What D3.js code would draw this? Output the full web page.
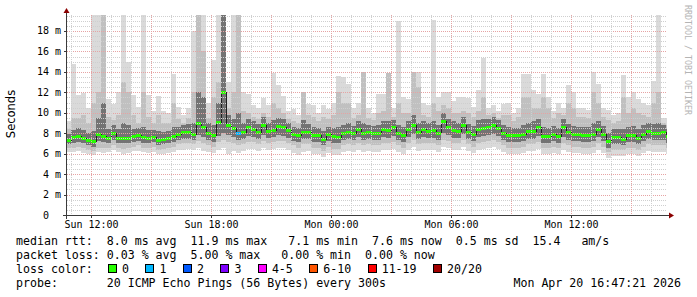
<!DOCTYPE html>
<html>
<head>
<meta charset="utf-8">
<script src="https://cdn.jsdelivr.net/npm/d3@7"></script>
<style>
body { margin: 0; background: #fff; }
text { font-family: "DejaVu Sans Mono", monospace; }
</style>
</head>
<body>
<div id="chart"></div>
<script>
// ******* data: 15 minute steps from Sun 10:45, values in ms ******* //
var firstStep = new Date(2026, 3, 19, 10, 45);
var stepMinutes = 15;

// top of the lightest smoke (slowest ping)
var hi = [9.2,14.8,11.7,11.9,10.5,21,21,21,11.3,10.9,
  12.0,21,15.0,11.7,10.6,21,11.7,10.2,11.6,10.2,
  10.0,13.8,10.6,9.8,10.5,18.0,21,21,11.0,15.2,
  21,21,13.0,21,21,12.0,11.8,10.8,10.5,11.4,
  10.8,13.9,12.7,11.6,10.2,10.4,9.8,12.0,10.9,10.8,
  10.0,10.8,10.4,11.0,13.6,13.5,12.8,10.5,11.0,14.0,
  10.5,10.0,11.8,11.8,13.9,10.5,19.0,11.5,11.3,14.0,
  14.0,11.0,10.8,19.1,11.5,12.0,12.0,11.2,11.5,11.5,
  11.4,10.6,12.2,15.4,10.5,10.8,10.2,10.9,11.0,10.0,
  10.5,13.8,13.8,12.2,11.8,13.8,11.5,10.2,11.0,10.5,
  12.7,12.0,10.5,10.5,10.3,14.0,12.8,10.5,10.3,9.8,
  10.0,13.7,11.5,12.0,11.3,11.0,10.8,13.1,21,9.5,
  9.5];
// top of the middle smoke
var up = [8.4,9.5,9.5,9.8,9.0,11,12,21,9.6,9.3,
  9.8,13,12,9.8,9.0,12,9.6,9.0,9.8,9.0,
  9.0,11.0,9.4,9.0,9.5,12,21,16,9.5,11.5,
  13,21,10.5,12,21,10.2,10.0,9.6,9.4,10.0,
  9.6,11.0,10.5,10.0,9.4,9.2,9.0,12.0,9.8,9.6,
  9.2,9.6,9.4,9.8,12.0,11.0,11.0,9.5,9.8,14.0,
  9.5,9.3,10.0,10.2,13.9,9.6,11.0,10.0,10.0,14.0,
  12.5,9.8,9.6,11.0,10.2,10.8,10.5,10.0,10.0,10.2,
  10.0,9.6,10.2,11.5,9.8,10.0,9.5,9.8,9.8,9.2,
  9.6,11.5,11.5,10.5,10.5,11.5,10.5,9.5,10.0,9.8,
  11.0,10.5,9.6,9.6,9.5,12.0,11.0,9.6,9.3,9.0,
  9.2,11.5,10.0,10.5,10.0,9.8,9.6,11.0,12,9.0,
  8.8];
// top of the dark smoke
var uq = [7.9,8.3,8.5,8.3,8.0,8.2,9.5,11.0,8.4,8.8,
  8.4,9.0,8.8,8.4,8.5,8.6,8.3,8.3,8.2,8.1,
  8.2,8.6,8.6,8.8,8.9,9.0,12.0,11.5,9.0,8.8,
  11.0,21,9.8,9.4,10.0,9.0,9.4,9.2,8.9,9.6,
  9.0,9.3,9.5,9.4,9.0,8.6,8.5,9.3,8.9,8.6,
  8.5,8.2,8.6,8.5,8.6,8.8,9.0,8.7,9.2,9.0,
  8.8,8.7,8.8,9.2,9.2,9.3,8.8,8.6,9.2,9.8,
  9.0,9.2,9.0,9.2,8.8,10.0,9.4,9.2,9.0,9.6,
  8.9,8.7,9.3,9.4,9.4,9.6,9.3,8.8,8.6,8.5,
  8.5,8.8,9.0,9.2,9.4,8.6,8.5,8.7,8.5,9.4,
  8.9,8.7,8.6,8.6,8.6,9.0,9.2,8.7,8.0,8.4,
  8.4,8.4,8.6,8.7,8.4,8.8,9.0,8.9,9.0,8.8,
  8.4];
// median rtt
var med = [7.3,7.6,7.7,7.5,7.3,7.2,7.9,7.7,7.5,8.0,
  7.5,7.5,7.5,7.7,7.8,7.6,7.5,7.6,7.3,7.4,
  7.5,7.7,7.9,8.1,8.1,7.9,9.0,8.6,8.0,7.8,
  9.1,12.0,8.8,8.5,8.0,8.1,8.6,8.4,8.1,8.8,
  8.2,8.3,8.7,8.6,8.3,7.9,7.8,8.1,8.1,7.8,
  7.8,7.4,7.9,7.7,7.6,8.0,8.1,8.0,8.4,8.0,
  8.1,8.0,8.0,8.4,8.3,8.6,8.0,7.8,8.4,8.8,
  8.1,8.4,8.2,8.3,8.0,9.2,8.6,8.3,8.2,8.8,
  8.1,7.9,8.4,8.5,8.6,8.8,8.5,8.0,7.8,7.8,
  7.8,7.9,8.2,8.2,8.6,7.7,7.7,7.9,7.7,8.6,
  8.1,7.9,7.9,7.8,7.8,7.9,8.4,7.9,7.2,7.6,
  7.6,7.4,7.8,7.8,7.5,7.9,8.2,8.0,8.0,8.1,
  7.7];
// bottom of the dark smoke
var lq = [6.9,7.0,7.1,7.0,6.8,6.7,7.2,7.1,7.0,7.3,
  7.0,7.0,7.0,7.1,7.2,7.0,7.0,7.1,6.8,6.9,
  7.0,7.1,7.3,7.4,7.4,7.3,7.8,7.6,7.3,7.1,
  7.7,8.0,7.8,7.6,7.3,7.4,7.7,7.6,7.4,7.8,
  7.5,7.6,7.8,7.7,7.5,7.2,7.1,7.4,7.4,7.1,
  7.1,6.8,7.2,7.0,7.0,7.3,7.4,7.3,7.6,7.3,
  7.4,7.3,7.3,7.6,7.5,7.7,7.3,7.1,7.6,7.9,
  7.4,7.6,7.5,7.5,7.3,8.0,7.8,7.5,7.5,7.9,
  7.4,7.2,7.6,7.7,7.8,7.9,7.7,7.3,7.1,7.1,
  7.1,7.2,7.4,7.4,7.7,7.0,7.0,7.2,7.0,7.6,
  7.3,7.2,7.2,7.1,7.1,7.2,7.6,7.2,6.6,6.9,
  6.9,6.8,7.1,7.1,6.9,7.2,7.4,7.3,7.3,7.3,
  7.0];
// bottom of the middle smoke
var dn = [6.6,6.6,6.7,6.6,6.4,6.3,6.6,6.6,6.6,6.8,
  6.6,6.5,6.6,6.7,6.8,6.6,6.6,6.7,6.4,6.5,
  6.6,6.7,6.9,7.0,7.0,6.9,7.2,7.0,6.8,6.7,
  7.1,7.3,7.1,7.0,6.8,6.9,7.1,7.1,6.9,7.2,
  7.0,7.1,7.2,7.2,7.0,6.8,6.6,6.9,6.9,6.6,
  6.6,6.3,6.7,6.5,6.5,6.8,6.9,6.8,7.0,6.8,
  6.9,6.8,6.8,7.0,7.0,7.1,6.8,6.6,7.0,7.3,
  6.9,7.0,7.0,7.0,6.8,7.3,7.2,7.0,7.0,7.3,
  6.9,6.7,7.0,7.1,7.2,7.3,7.1,6.8,6.6,6.6,
  6.6,6.7,6.9,6.9,7.1,6.6,6.6,6.7,6.6,7.0,
  6.8,6.7,6.7,6.6,6.6,6.7,7.0,6.7,6.2,6.4,
  6.4,6.4,6.6,6.6,6.4,6.7,6.9,6.8,6.8,6.8,
  6.6];
// bottom of the lightest smoke (fastest ping)
var lo = [6.2,6.2,6.3,6.1,6.0,5.9,6.2,6.1,6.2,6.4,
  6.2,6.0,6.1,6.3,6.3,6.2,6.1,6.2,6.0,6.0,
  6.1,6.2,6.4,6.4,6.5,6.4,6.6,6.3,6.2,6.1,
  6.4,6.6,6.0,6.3,6.1,6.3,6.5,6.5,6.3,6.6,
  6.4,6.5,6.6,6.6,6.4,6.1,5.9,6.2,6.3,6.0,
  6.0,5.7,6.1,5.9,5.9,6.2,6.3,6.2,6.4,6.2,
  6.3,6.2,6.2,6.4,6.4,6.5,6.2,6.0,6.4,6.7,
  6.3,6.4,6.4,6.4,6.2,6.7,6.6,6.4,6.4,6.7,
  6.3,6.1,6.4,6.5,6.6,6.7,6.5,6.2,6.0,6.0,
  6.0,6.1,6.3,6.3,6.5,6.0,6.0,6.1,6.0,6.4,
  6.2,6.1,6.1,6.0,6.0,6.1,6.4,6.1,5.6,5.8,
  5.8,5.8,6.0,6.0,5.8,6.1,6.3,6.2,6.2,6.2,
  6.0];
// steps with lost pings (step index -> pings lost)
var lossAt = {34: 1};

var lossLabels = ["0", "1", "2", "3", "4-5", "6-10", "11-19", "20/20"];
var lossColors = ["#26ff00", "#00b8ff", "#0059ff", "#7e00ff", "#ff00ff", "#ff5500", "#ff0000", "#a10000"];
var lossIndex = {0: 0, 1: 1, 2: 2, 3: 3};

var legendRows = [
  "median rtt:  8.0 ms avg  11.9 ms max   7.1 ms min  7.6 ms now  0.5 ms sd  15.4   am/s",
  "packet loss: 0.03 % avg  5.00 % max   0.00 % min  0.00 % now",
  "loss color:",
  "probe:       20 ICMP Echo Pings (56 Bytes) every 300s"
];
var graphTime = new Date(2026, 3, 20, 16, 47, 21);
var yAxisLabel = "Seconds";
var watermark = "RRDTOOL / TOBI OETIKER";

// ******* layout ********* //
var width = 697, height = 297;
var plotLeft = 67, plotRight = 667, plotTop = 15, plotBottom = 215;

var svg = d3.select("#chart").append("svg")
    .attr("width", width)
    .attr("height", height);

var x = d3.scaleTime()
    .domain([new Date(2026, 3, 19, 10, 48), new Date(2026, 3, 20, 16, 48)])
    .range([plotLeft, plotRight]);
var y = d3.scaleLinear().domain([0, 19.565]).range([plotBottom, plotTop]);

var steps = med.map(function(d, i) {
    return {
        t: d3.timeMinute.offset(firstStep, i * stepMinutes),
        hi: hi[i], up: up[i], uq: uq[i], med: d, lq: lq[i], dn: dn[i], lo: lo[i],
        loss: lossAt[i] || 0
    };
});
// closing point so the last step has a width
var last = steps[steps.length - 1];
steps.push(Object.assign({}, last, {t: d3.timeMinute.offset(last.t, stepMinutes)}));

svg.append("defs").append("clipPath").attr("id", "plot")
    .append("rect")
    .attr("x", plotLeft).attr("y", plotTop)
    .attr("width", plotRight - plotLeft).attr("height", plotBottom - plotTop);

var plot = svg.append("g").attr("clip-path", "url(#plot)");

// ******* smoke ********* //
var bands = [["lo", "hi", "#dadada"], ["dn", "up", "#c0c0c0"], ["lq", "uq", "#737373"]];
bands.forEach(function(b) {
    var area = d3.area()
        .curve(d3.curveStepAfter)
        .x(function(d) { return x(d.t); })
        .y0(function(d) { return y(d[b[0]]); })
        .y1(function(d) { return y(d[b[1]]); });
    plot.append("path")
        .datum(steps)
        .attr("fill", b[2])
        .attr("shape-rendering", "crispEdges")
        .attr("d", area);
});

// ******* grid (drawn over the smoke, like rrdtool) ********* //
var grid = svg.append("g").attr("shape-rendering", "crispEdges");
d3.range(1, 40).forEach(function(k) {
    var v = k * 0.5;
    if (v > y.domain()[1]) return;
    var major = (k % 4 === 0);
    var yy = Math.round(y(v)) + 0.5;
    grid.append("line")
        .attr("x1", plotLeft).attr("x2", plotRight)
        .attr("y1", yy).attr("y2", yy)
        .attr("stroke", major ? "#e6a3a3" : "#cfcfcf")
        .attr("stroke-dasharray", "1,1");
});
d3.timeHour.range(x.domain()[0], x.domain()[1]).forEach(function(t) {
    var major = (t.getHours() % 3 === 0);
    var xx = Math.round(x(t)) + 0.5;
    grid.append("line")
        .attr("x1", xx).attr("x2", xx)
        .attr("y1", plotTop).attr("y2", plotBottom)
        .attr("stroke", major ? "#e6a3a3" : "#cfcfcf")
        .attr("stroke-dasharray", "1,1");
});

// ******* median ********* //
plot.append("path")
    .datum(steps)
    .attr("fill", "none")
    .attr("stroke", "#202020")
    .attr("stroke-width", 1)
    .attr("shape-rendering", "crispEdges")
    .attr("d", d3.line().curve(d3.curveStepAfter)
        .x(function(d) { return x(d.t); })
        .y(function(d) { return Math.round(y(d.med)) + 0.5; }));

plot.append("g").selectAll("rect")
    .data(steps.slice(0, -1))
    .enter().append("rect")
    .attr("shape-rendering", "crispEdges")
    .attr("x", function(d) { return x(d.t); })
    .attr("width", function(d) { return x(d3.timeMinute.offset(d.t, stepMinutes)) - x(d.t); })
    .attr("y", function(d) { return Math.round(y(d.med)) - 1; })
    .attr("height", 3)
    .attr("fill", function(d) { return lossColors[lossIndex[d.loss]]; });

// ******* axes ********* //
var axis = svg.append("g").attr("shape-rendering", "crispEdges");
axis.append("line").attr("x1", 66.5).attr("x2", 66.5).attr("y1", 12).attr("y2", 219)
    .attr("stroke", "#3a3a3a");
axis.append("line").attr("x1", 63).attr("x2", 670).attr("y1", 215.5).attr("y2", 215.5)
    .attr("stroke", "#3a3a3a");
svg.append("path").attr("d", "M66.5,8L63.5,13L69.5,13Z").attr("fill", "#8b0000");
svg.append("path").attr("d", "M674,215.5L669,212.5L669,218.5Z").attr("fill", "#8b0000");

// y labels
var yTicks = d3.range(0, 19, 2);
var ylab = svg.append("g").attr("font-size", "10px").attr("fill", "#000");
yTicks.forEach(function(v) {
    var yy = y(v) + 3.5;
    ylab.append("text").attr("x", 49).attr("y", yy).attr("text-anchor", "end").text(v);
    if (v > 0) ylab.append("text").attr("x", 55).attr("y", yy).text("m");
    axis.append("line").attr("x1", 64).attr("x2", 66).attr("y1", Math.round(y(v)) + 0.5)
        .attr("y2", Math.round(y(v)) + 0.5).attr("stroke", "#3a3a3a");
});

// x labels
var fmt = d3.timeFormat("%a %H:%M");
var xlab = svg.append("g").attr("font-size", "10px").attr("fill", "#000");
d3.timeHour.every(6).range(x.domain()[0], x.domain()[1]).forEach(function(t) {
    xlab.append("text").attr("x", x(t) + 0.5).attr("y", 228)
        .attr("text-anchor", "middle").text(fmt(t));
    axis.append("line").attr("x1", Math.round(x(t)) + 0.5).attr("x2", Math.round(x(t)) + 0.5)
        .attr("y1", 215).attr("y2", 218).attr("stroke", "#3a3a3a");
});

// axis title + watermark
svg.append("text")
    .attr("transform", "translate(14.5,114) rotate(-90)")
    .attr("text-anchor", "middle")
    .style("font-family", "'DejaVu Sans', sans-serif")
    .attr("font-size", "11.5px")
    .attr("fill", "#000")
    .text(yAxisLabel);
svg.append("text")
    .attr("transform", "translate(684.5,5) rotate(90)")
    .attr("font-size", "8.3px")
    .attr("fill", "#b4b4b4")
    .text(watermark);

// ******* legend ********* //
var cw = 6.97;
function keepSpaces(s) { return s.replace(/ /g, "\u00a0"); }
var legend = svg.append("g").attr("font-size", "11.6px").attr("fill", "#000");
legendRows.forEach(function(s, r) {
    legend.append("text").attr("x", 16).attr("y", 245 + r * 14).text(keepSpaces(s));
});
var bx = 108;
lossLabels.forEach(function(lab, k) {
    legend.append("rect")
        .attr("x", bx + 0.5).attr("y", 264.5)
        .attr("width", 8).attr("height", 8)
        .attr("fill", lossColors[k]).attr("stroke", "#000")
        .attr("shape-rendering", "crispEdges");
    legend.append("text").attr("x", bx + 14).attr("y", 273).text(lab);
    bx += 14 + lab.length * cw + 16.5;
});
legend.append("text")
    .attr("x", 681).attr("y", 287)
    .attr("text-anchor", "end")
    .text(d3.timeFormat("%a %b %d %H:%M:%S %Y")(graphTime));
</script>
</body>
</html>
